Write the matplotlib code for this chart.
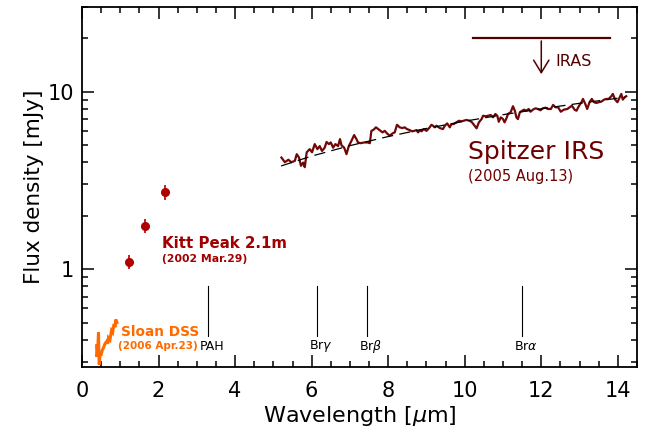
import matplotlib
matplotlib.use('Agg')
import matplotlib.pyplot as plt
from matplotlib.ticker import MultipleLocator, LogLocator, FixedFormatter, FixedLocator, NullFormatter

# Sloan DSS spectrum (orange)
sloan_wl = [0.38, 0.39, 0.41, 0.43, 0.44, 0.45, 0.47, 0.50, 0.53, 0.56, 0.60,
            0.64, 0.67, 0.69, 0.73, 0.77, 0.80, 0.82, 0.84, 0.86, 0.88, 0.91]
sloan_fl = [0.37, 0.32, 0.35, 0.44, 0.33, 0.29, 0.33, 0.33, 0.35, 0.36, 0.38,
            0.39, 0.38, 0.41, 0.40, 0.45, 0.44, 0.47, 0.49, 0.47, 0.52, 0.50]

# Kitt Peak 2.1m photometry (J, H, K)
kp_wl = [1.22, 1.65, 2.16]
kp_fl = [1.10, 1.76, 2.72]
kp_err = [0.10, 0.16, 0.26]

# Spitzer IRS spectrum
irs_wl = [5.21, 5.30, 5.39, 5.47, 5.56, 5.61, 5.67, 5.72, 5.78, 5.82, 5.87, 5.95,
          6.01, 6.08, 6.15, 6.21, 6.27, 6.34, 6.39, 6.45, 6.50, 6.56, 6.62, 6.69,
          6.74, 6.78, 6.85, 6.91, 6.97, 7.04, 7.11, 7.17, 7.21, 7.28, 7.37, 7.46,
          7.52, 7.56, 7.62, 7.68, 7.74, 7.80, 7.85, 7.91, 7.97, 8.04, 8.11, 8.17,
          8.23, 8.30, 8.37, 8.43, 8.49, 8.56, 8.63, 8.68, 8.74, 8.78, 8.83, 8.87,
          8.93, 9.00, 9.07, 9.13, 9.17, 9.22, 9.26, 9.35, 9.43, 9.48, 9.54, 9.61,
          9.65, 9.71, 9.78, 9.85, 9.91, 9.97, 10.04, 10.13, 10.19, 10.26, 10.31,
          10.37, 10.44, 10.48, 10.54, 10.61, 10.68, 10.74, 10.80, 10.85, 10.89,
          10.94, 11.00, 11.04, 11.09, 11.13, 11.20, 11.26, 11.31, 11.35, 11.39,
          11.44, 11.50, 11.55, 11.61, 11.67, 11.72, 11.78, 11.85, 11.91, 11.98,
          12.04, 12.11, 12.17, 12.25, 12.31, 12.37, 12.44, 12.51, 12.59, 12.68,
          12.74, 12.80, 12.87, 12.92, 12.98, 13.05, 13.09, 13.15, 13.20, 13.26,
          13.32, 13.38, 13.44, 13.50, 13.57, 13.64, 13.70, 13.76, 13.83, 13.87,
          13.93, 13.99, 14.05, 14.09, 14.13, 14.18, 14.22]
irs_fl = [4.25, 4.00, 4.13, 4.00, 4.07, 4.44, 4.25, 3.82, 3.98, 3.75, 4.55, 4.74,
          4.55, 5.06, 4.74, 4.93, 4.63, 4.83, 5.20, 5.06, 5.17, 4.83, 5.06, 4.93,
          5.40, 4.98, 4.83, 4.44, 4.93, 5.28, 5.69, 5.40, 5.17, 5.12, 5.17, 5.17,
          5.12, 6.00, 6.10, 6.29, 6.15, 6.01, 5.89, 6.01, 5.81, 5.64, 5.81, 5.89,
          6.50, 6.29, 6.23, 6.29, 6.15, 6.07, 5.97, 6.01, 6.07, 5.89, 6.07, 5.97,
          6.15, 6.01, 6.23, 6.50, 6.42, 6.29, 6.42, 6.23, 6.15, 6.42, 6.62, 6.29,
          6.56, 6.56, 6.71, 6.85, 6.80, 6.85, 6.92, 6.85, 6.71, 6.42, 6.21,
          6.71, 7.00, 7.31, 7.26, 7.31, 7.38, 7.16, 7.48, 7.31, 6.76,
          7.16, 7.00, 6.71, 7.07, 7.48, 7.65, 8.27, 7.80, 7.16, 7.00,
          7.65, 7.80, 7.91, 7.80, 7.98, 7.70, 7.91, 8.05, 7.98, 7.85,
          8.05, 8.12, 7.98, 7.98, 8.41, 8.16, 8.16, 7.70, 7.91, 7.98,
          8.16, 8.33, 7.91, 7.80, 8.27, 8.71, 9.09, 8.51, 7.98, 8.71,
          9.09, 8.71, 8.63, 8.71, 8.78, 9.01, 9.09, 9.09, 9.42, 9.70,
          9.01, 8.71, 9.29, 9.70, 9.01, 9.29, 9.42]

# power-law fit to the IRS spectrum (dashed)
fit_wl = [5.2, 6.0, 7.0, 8.0, 9.0, 10.0, 11.0, 12.0, 13.0, 14.2]
fit_fl = [3.81, 4.33, 4.96, 5.58, 6.20, 6.81, 7.41, 8.00, 8.59, 9.30]

# IRAS 12 micron upper limit
iras_band = [10.22, 13.79]
iras_limit = 20.0
iras_wl = 12.0
iras_arrow_end = 12.1

# line / feature markers
line_names = ['PAH', r'Br$\gamma$', r'Br$\beta$', r'Br$\alpha$']
line_wl = [3.30, 6.14, 7.45, 11.50]

plt.rcParams['font.family'] = 'DejaVu Sans'
plt.rcParams['mathtext.fontset'] = 'dejavusans'

fig = plt.figure(figsize=(6.46, 4.32), dpi=100)
ax = fig.add_axes([0.127, 0.150, 0.859, 0.834])
ax.set_yscale('log')
ax.set_xlim(0, 14.5)
ax.set_ylim(0.28, 30)

ax.plot(sloan_wl, sloan_fl, color='#ff6a00', lw=2.2, solid_joinstyle='miter')
ax.errorbar(kp_wl, kp_fl, yerr=kp_err, fmt='o', color='#b00000', ms=5.5,
            elinewidth=1.2, capsize=0)
ax.plot(irs_wl, irs_fl, color='#700808', lw=1.6)
ax.plot(fit_wl, fit_fl, color='black', lw=0.9, ls=(0, (9, 5)))

# IRAS upper limit
ax.plot(iras_band, [iras_limit, iras_limit], color='#500000', lw=1.6)
ax.annotate('', xy=(iras_wl, iras_arrow_end), xytext=(iras_wl, iras_limit),
            arrowprops=dict(arrowstyle='->,head_length=0.9,head_width=0.55',
                            color='#500000', lw=1.1))
ax.text(12.37, 14.7, 'IRAS', color='#500000', fontsize=11.5, va='center')

# feature lines
for name, wl in zip(line_names, line_wl):
    ax.plot([wl, wl], [0.42, 0.80], color='black', lw=0.8)
    ax.text(wl - 0.22, 0.368, name, fontsize=9, va='center', ha='left')

ax.text(10.08, 4.56, 'Spitzer IRS', color='#6e0000', fontsize=18, va='center')
ax.text(10.08, 3.34, '(2005 Aug.13)', color='#6e0000', fontsize=10.5, va='center')
ax.text(2.08, 1.39, 'Kitt Peak 2.1m', color='#a00000', fontsize=10.8,
        fontweight='bold', va='center')
ax.text(2.08, 1.14, '(2002 Mar.29)', color='#a00000', fontsize=7.8,
        fontweight='bold', va='center')
ax.text(1.02, 0.443, 'Sloan DSS', color='#ff6a00', fontsize=9.8,
        fontweight='bold', va='center')
ax.text(0.95, 0.368, '(2006 Apr.23)', color='#ff6a00', fontsize=7.5,
        fontweight='bold', va='center')

ax.xaxis.set_major_locator(MultipleLocator(2))
ax.xaxis.set_minor_locator(MultipleLocator(0.5))
ax.yaxis.set_major_locator(FixedLocator([1, 10]))
ax.yaxis.set_major_formatter(FixedFormatter(['1', '10']))
ax.yaxis.set_minor_locator(LogLocator(base=10, subs=[2, 3, 4, 5, 6, 7, 8, 9]))
ax.yaxis.set_minor_formatter(NullFormatter())
ax.tick_params(which='both', direction='in', top=True, right=True, width=1.1)
ax.tick_params(which='major', length=8.5, labelsize=15)
ax.tick_params(axis='x', which='major', pad=10)
ax.tick_params(axis='y', which='major', pad=6)
ax.tick_params(which='minor', length=4.5)
for s in ax.spines.values():
    s.set_linewidth(1.3)

ax.set_xlabel(r'Wavelength [$\mu$m]', fontsize=16, labelpad=2)
ax.set_ylabel('Flux density [mJy]', fontsize=15.5, labelpad=2)

fig.savefig('out.png', dpi=100)
